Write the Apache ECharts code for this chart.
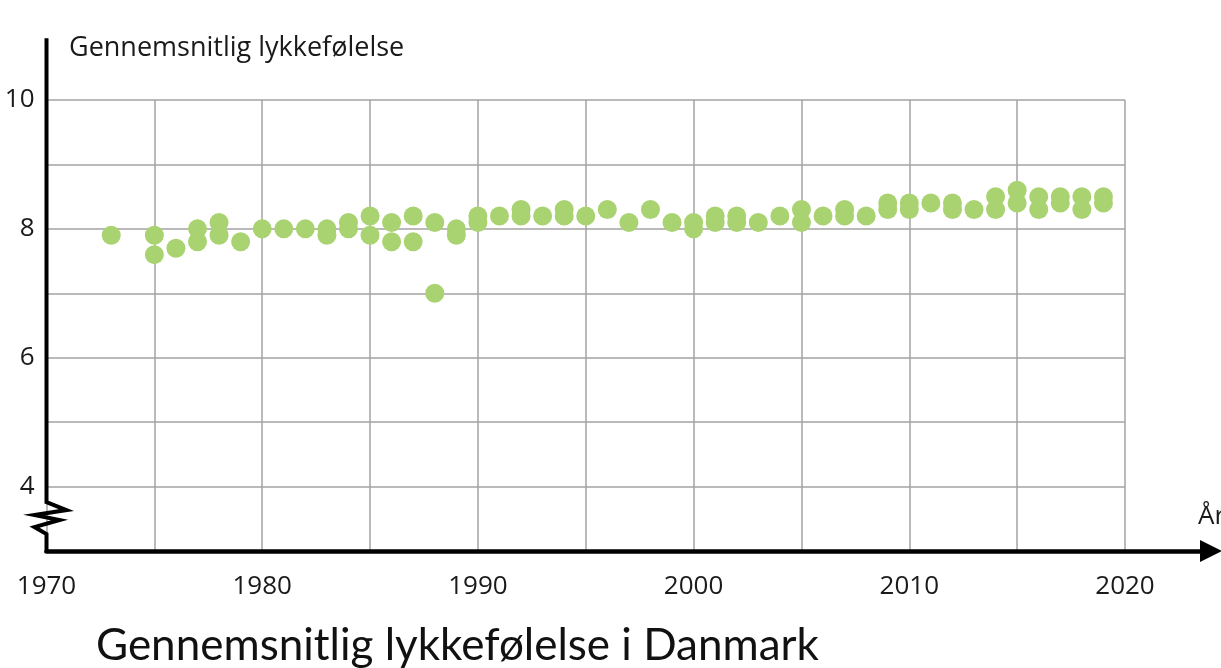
<!DOCTYPE html>
<html>
<head>
<meta charset="utf-8">
<script src="https://cdn.jsdelivr.net/npm/echarts@6/dist/echarts.min.js"></script>
<style>
  html, body { margin: 0; padding: 0; background: #fff; }
  #chart { width: 1221px; height: 668px; }
</style>
</head>
<body>
<div id="chart"></div>
<script>
  // Data: one entry per dot
  const years = [
    1973, 1975, 1975, 1976, 1977, 1977, 1978, 1978, 1979, 1980,
    1981, 1982, 1983, 1983, 1984, 1984, 1985, 1985, 1986, 1986,
    1987, 1987, 1988, 1988, 1989, 1989, 1990, 1990, 1991, 1992,
    1992, 1993, 1994, 1994, 1995, 1996, 1997, 1998, 1999, 2000,
    2000, 2001, 2001, 2002, 2002, 2003, 2004, 2005, 2005, 2006,
    2007, 2007, 2008, 2009, 2009, 2010, 2010, 2011, 2012, 2012,
    2013, 2014, 2014, 2015, 2015, 2016, 2016, 2017, 2017, 2018,
    2018, 2019, 2019
  ];
  const scores = [
    7.9, 7.9, 7.6, 7.7, 8.0, 7.8, 8.1, 7.9, 7.8, 8.0,
    8.0, 8.0, 8.0, 7.9, 8.1, 8.0, 8.2, 7.9, 8.1, 7.8,
    8.2, 7.8, 8.1, 7.0, 8.0, 7.9, 8.2, 8.1, 8.2, 8.3,
    8.2, 8.2, 8.3, 8.2, 8.2, 8.3, 8.1, 8.3, 8.1, 8.1,
    8.0, 8.2, 8.1, 8.2, 8.1, 8.1, 8.2, 8.3, 8.1, 8.2,
    8.3, 8.2, 8.2, 8.4, 8.3, 8.4, 8.3, 8.4, 8.4, 8.3,
    8.3, 8.5, 8.3, 8.6, 8.4, 8.5, 8.3, 8.5, 8.4, 8.5,
    8.3, 8.5, 8.4
  ];
  const yLabelTicks = [4, 6, 8, 10];
  const xLabelTicks = [1970, 1980, 1990, 2000, 2010, 2020];

  const yName = "Gennemsnitlig lykkefølelse";
  const xName = "År";
  const chartTitle = "Gennemsnitlig lykkefølelse i Danmark";

  const font = "'Open Sans', 'DejaVu Sans', sans-serif";
  const dotColor = "#a9d271";
  const gridColor = "#a3a3a3";

  const chart = echarts.init(document.getElementById("chart"), null, { renderer: "canvas" });

  const option = {
    animation: false,
    title: [
      {
        text: yName, left: 64, top: 30,
        textStyle: { fontFamily: font, fontSize: 27, fontWeight: "normal", color: "#1a1a1a" }
      },
      {
        text: chartTitle, left: 91, top: 619,
        textStyle: { fontFamily: "Lato, 'Open Sans', sans-serif", fontSize: 44, fontWeight: "normal", color: "#111" }
      },
      {
        text: xName, left: 1193, top: 499,
        textStyle: { fontFamily: font, fontSize: 26, fontWeight: "normal", color: "#1a1a1a" }
      }
    ],
    grid: [
      { left: 46.5, right: 96, top: 100, bottom: 117 },
      // wider grid only used for the arrowed x axis line
      { left: 46.5, right: 10, top: 100, bottom: 117 }
    ],
    xAxis: [
      {
        type: "value", gridIndex: 0, min: 1970, max: 2020, interval: 5,
        axisLine: { show: false },
        axisTick: { show: false },
        splitLine: { show: true, lineStyle: { color: gridColor, width: 1.5 } },
        axisLabel: {
          margin: 23, fontFamily: font, fontSize: 26, color: "#1a1a1a",
          formatter: (v) => xLabelTicks.indexOf(v) >= 0 ? String(v) : ""
        }
      },
      {
        type: "value", gridIndex: 1, min: 0, max: 1, z: 5,
        axisLine: {
          show: true, symbol: ["none", "triangle"], symbolSize: [22, 22],
          lineStyle: { color: "#000", width: 4.5 }
        },
        axisTick: { show: false },
        axisLabel: { show: false },
        splitLine: { show: false }
      }
    ],
    yAxis: [
      {
        type: "value", gridIndex: 0, min: 3, max: 10, interval: 1,
        axisLine: { show: false },
        axisTick: { show: false },
        splitLine: { show: true, lineStyle: { color: gridColor, width: 1.5 } },
        axisLabel: {
          margin: 12, fontFamily: font, fontSize: 26, color: "#1a1a1a",
          formatter: (v) => yLabelTicks.indexOf(v) >= 0 ? String(v) : ""
        }
      },
      {
        type: "value", gridIndex: 1, min: 0, max: 1, show: false
      }
    ],
    series: [
      {
        type: "scatter",
        xAxisIndex: 0, yAxisIndex: 0,
        symbol: "circle",
        symbolSize: 19,
        itemStyle: { color: dotColor, opacity: 1 },
        data: years.map((y, i) => [y, scores[i]]),
        z: 3
      }
    ]
  };

  chart.setOption(option);

  // y axis line with the broken-axis zigzag near the bottom
  function px(v) {
    return chart.convertToPixel({ xAxisIndex: 0, yAxisIndex: 0 }, [1970, v]);
  }
  const axisTop = px(10.96);
  const zigTop = px(3.76);
  const axisBase = px(3);
  const x0 = axisTop[0];
  const y0 = zigTop[1];
  const yAxisPoints = [
    [x0, axisTop[1]],
    [x0, y0],
    [x0 + 20, y0 + 8],
    [x0 - 12, y0 + 13],
    [x0 + 13, y0 + 18],
    [x0 - 12, y0 + 25],
    [x0, y0 + 32],
    [x0, axisBase[1] + 2]
  ];
  chart.setOption({
    graphic: [
      {
        type: "polyline", z: 10,
        shape: { points: yAxisPoints },
        style: { stroke: "#000", lineWidth: 4, fill: null, lineJoin: "miter" }
      }
    ]
  });
</script>
</body>
</html>
